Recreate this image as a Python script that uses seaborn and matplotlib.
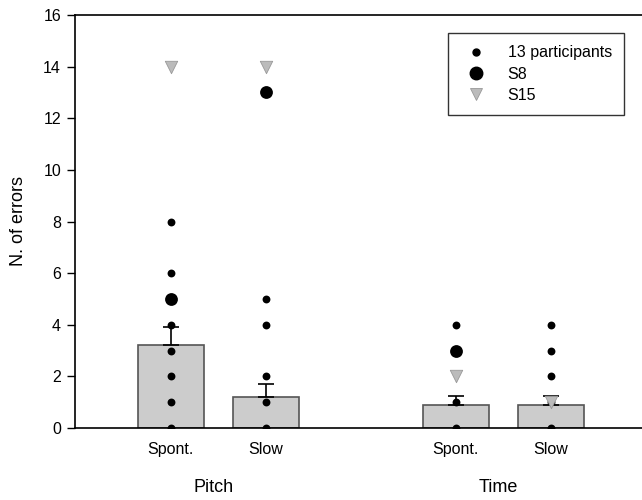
import matplotlib
matplotlib.use("Agg")
import matplotlib.pyplot as plt
import seaborn as sns
import pandas as pd
from matplotlib.lines import Line2D

sns.set_style("ticks")
plt.rcParams['font.family'] = ['Liberation Sans', 'DejaVu Sans']
plt.rcParams['text.color'] = 'black'
plt.rcParams['axes.labelcolor'] = 'black'
plt.rcParams['xtick.color'] = 'black'
plt.rcParams['ytick.color'] = 'black'

# Data
conditions = ["Spont.", "Slow", "Spont.", "Slow"]
groups = ["Pitch", "Time"]
positions = [1, 2, 4, 5]
means = [3.2, 1.2, 0.9, 0.9]
sems = [0.72, 0.52, 0.33, 0.35]

# individual points (13 participants, distinct visible values)
part_pitch_spont = [0, 1, 2, 3, 4, 6, 8]
part_pitch_slow = [0, 1, 2, 4, 5]
part_time_spont = [0, 1, 4]
part_time_slow = [0, 1, 2, 3, 4]
participants = [part_pitch_spont, part_pitch_slow, part_time_spont, part_time_slow]
s8 = [5, 13, 3, None]
s15 = [14, 14, 2, 1]

fig = plt.figure(figsize=(6.42, 5.0), dpi=100)
ax = fig.add_axes([75/642, 72/500, 567/642, 413/500])

bar_df = pd.DataFrame({"pos": positions, "mean": means})
sns.barplot(data=bar_df, x="pos", y="mean", native_scale=True, width=0.7,
            color="#cccccc", edgecolor="#555555", linewidth=1.2,
            errorbar=None, ax=ax, zorder=2, saturation=1)
ax.errorbar(positions, means, yerr=[[0]*4, sems], fmt="none", ecolor="black",
            elinewidth=1.2, capsize=6, capthick=1.2, zorder=3)

rows = []
for p, vals in zip(positions, participants):
    for v in vals:
        rows.append({"pos": p, "val": v})
pdf = pd.DataFrame(rows)
sns.scatterplot(data=pdf, x="pos", y="val", color="black", s=32, linewidth=0,
                ax=ax, zorder=4)
s8_df = pd.DataFrame({"pos": [p for p, v in zip(positions, s8) if v is not None],
                      "val": [v for v in s8 if v is not None]})
sns.scatterplot(data=s8_df, x="pos", y="val", color="black", s=85, linewidth=0,
                ax=ax, zorder=4)
s15_df = pd.DataFrame({"pos": positions, "val": s15})
sns.scatterplot(data=s15_df, x="pos", y="val", color="#bbbbbb", marker="v", s=80,
                edgecolor="#999999", linewidth=0.6, ax=ax, zorder=5)

ax.set_xlim(-0.01, 5.96)
ax.set_ylim(0, 16)
ax.set_yticks(range(0, 17, 2))
ax.set_xticks(positions)
ax.set_xticklabels(conditions)
ax.tick_params(axis="x", length=0, pad=10, labelsize=11.5)
ax.tick_params(axis="y", length=6, width=1, direction="out", labelsize=11.5, pad=4)
ax.set_xlabel("")
ax.set_ylabel("N. of errors", fontsize=13, labelpad=12)
for s in ["left", "top", "bottom"]:
    ax.spines[s].set_visible(True)
    ax.spines[s].set_linewidth(1.2)
    ax.spines[s].set_color("black")
ax.spines["right"].set_visible(False)

# group labels
ax.text(1.45, -0.145, groups[0], transform=ax.get_xaxis_transform(), ha="center",
        va="center", fontsize=13)
ax.text(4.45, -0.145, groups[1], transform=ax.get_xaxis_transform(), ha="center",
        va="center", fontsize=13)

handles = [
    Line2D([], [], marker="o", color="black", linestyle="none", markersize=5),
    Line2D([], [], marker="o", color="black", linestyle="none", markersize=9),
    Line2D([], [], marker="v", color="#bbbbbb", markeredgecolor="#999999",
           markeredgewidth=0.6, linestyle="none", markersize=9),
]
leg = ax.legend(handles, ["13 participants", "S8", "S15"], loc="upper right",
                bbox_to_anchor=(0.968, 0.956), borderaxespad=0, frameon=True,
                fancybox=False, edgecolor="black", fontsize=11.5,
                handletextpad=1.0, borderpad=0.75, labelspacing=0.4,
                handlelength=2.0)
leg.get_frame().set_linewidth(1.0)

fig.savefig("out.png", dpi=100)
